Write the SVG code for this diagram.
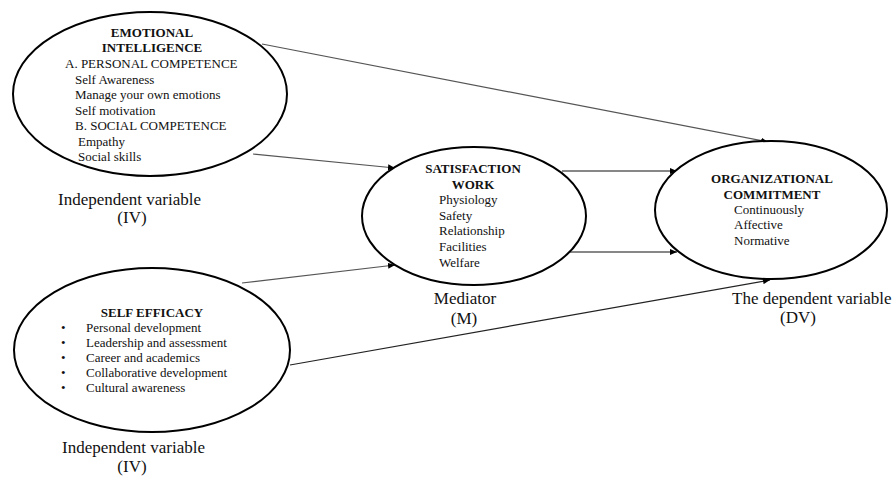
<svg xmlns="http://www.w3.org/2000/svg" width="893" height="477" viewBox="0 0 893 477">
<style>
text{font-family:"Liberation Serif","Times New Roman",serif;fill:#111;}
.h{font-weight:bold;font-size:13px;text-anchor:middle;}
.t{font-size:13px;}
.lab{font-size:17px;}
.c{text-anchor:middle;}
ellipse{fill:#fff;stroke:#000;stroke-width:2;}
.ln{fill:none;stroke-width:1.2;marker-end:url(#ah);}
</style>
<defs>
<marker id="ah" markerUnits="userSpaceOnUse" markerWidth="8" markerHeight="6" refX="7" refY="3" orient="auto">
<path d="M0,0 L7,3 L0,6 Z" fill="#000"/>
</marker>
</defs>
<rect width="893" height="477" fill="#fff"/>
<g id="connectors">
<line class="ln" x1="262" y1="44" x2="768" y2="142" stroke="#555"/>
<line class="ln" x1="253" y1="154" x2="395" y2="168" stroke="#555"/>
<line class="ln" x1="242" y1="283" x2="395" y2="265" stroke="#555"/>
<line class="ln" x1="290" y1="365" x2="770" y2="280" stroke="#222"/>
<line class="ln" x1="562" y1="171" x2="677" y2="171" stroke="#111"/>
<line class="ln" x1="570" y1="252" x2="677" y2="252" stroke="#111"/>
</g>
<g id="emotional-intelligence">
<ellipse cx="150" cy="94" rx="137" ry="82"/>
<text class="h" x="152" y="37">EMOTIONAL</text>
<text class="h" x="152" y="52">INTELLIGENCE</text>
<text class="t" x="65" y="68">A. PERSONAL COMPETENCE</text>
<text class="t" x="75" y="83.5">Self Awareness</text>
<text class="t" x="75" y="99">Manage your own emotions</text>
<text class="t" x="75" y="114.5">Self motivation</text>
<text class="t" x="75" y="130">B. SOCIAL COMPETENCE</text>
<text class="t" x="78" y="146">Empathy</text>
<text class="t" x="78" y="161">Social skills</text>
</g>
<g id="iv-label-1">
<text class="lab" x="58" y="205">Independent variable</text>
<text class="lab c" x="132" y="223">(IV)</text>
</g>
<g id="self-efficacy">
<ellipse cx="152" cy="350" rx="138" ry="82"/>
<text class="h" x="152" y="317">SELF EFFICACY</text>
<text class="t" x="61" y="332">•</text><text class="t" x="86" y="332">Personal development</text>
<text class="t" x="61" y="347">•</text><text class="t" x="86" y="347">Leadership and assessment</text>
<text class="t" x="61" y="362">•</text><text class="t" x="86" y="362">Career and academics</text>
<text class="t" x="61" y="377">•</text><text class="t" x="86" y="377">Collaborative development</text>
<text class="t" x="61" y="392">•</text><text class="t" x="86" y="392">Cultural awareness</text>
</g>
<g id="iv-label-2">
<text class="lab" x="62" y="453">Independent variable</text>
<text class="lab c" x="132" y="472">(IV)</text>
</g>
<g id="satisfaction-work">
<ellipse cx="474" cy="216" rx="112" ry="69"/>
<text class="h" x="473" y="173">SATISFACTION</text>
<text class="h" x="473" y="189">WORK</text>
<text class="t" x="439" y="204">Physiology</text>
<text class="t" x="439" y="220">Safety</text>
<text class="t" x="439" y="235">Relationship</text>
<text class="t" x="439" y="251">Facilities</text>
<text class="t" x="439" y="267">Welfare</text>
</g>
<g id="mediator-label">
<text class="lab c" x="465" y="304">Mediator</text>
<text class="lab c" x="464" y="324">(M)</text>
</g>
<g id="organizational-commitment">
<ellipse cx="771" cy="210" rx="116" ry="69"/>
<text class="h" x="772" y="183">ORGANIZATIONAL</text>
<text class="h" x="772" y="199">COMMITMENT</text>
<text class="t" x="734" y="214">Continuously</text>
<text class="t" x="734" y="229">Affective</text>
<text class="t" x="734" y="245">Normative</text>
</g>
<g id="dv-label">
<text class="lab" x="732" y="304">The dependent variable</text>
<text class="lab c" x="798" y="323">(DV)</text>
</g>
</svg>
